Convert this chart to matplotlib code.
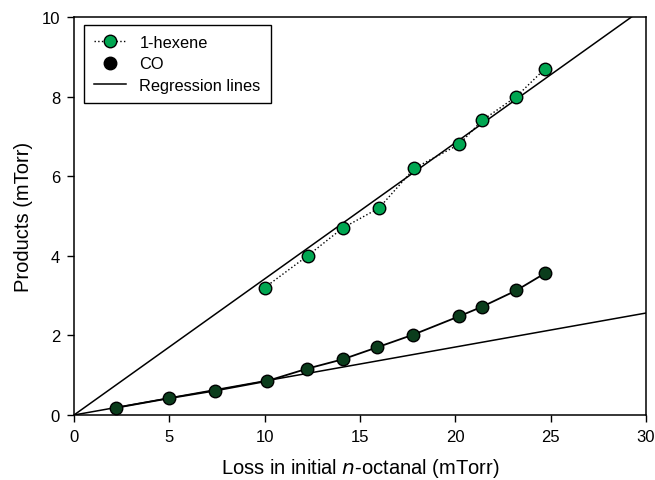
import numpy as np
import matplotlib
matplotlib.use("Agg")
import matplotlib.pyplot as plt
from matplotlib.lines import Line2D

plt.rcParams["font.family"] = ["Liberation Sans", "DejaVu Sans"]

# data (mTorr)
hex_x = [10.0, 12.25, 14.1, 16.0, 17.85, 20.2, 21.4, 23.2, 24.7]
hex_y = [3.2, 4.0, 4.7, 5.2, 6.2, 6.8, 7.4, 8.0, 8.7]
co_x = [2.2, 5.0, 7.4, 10.1, 12.2, 14.1, 15.9, 17.8, 20.2, 21.4, 23.2, 24.7]
co_y = [0.18, 0.42, 0.61, 0.85, 1.16, 1.40, 1.70, 2.02, 2.48, 2.72, 3.13, 3.56]
# regression slopes through origin
hex_slope = 0.342
co_slope = 0.0854

GREEN = "#00a651"
DARK = "#0b3d1c"

fig = plt.figure(figsize=(6.55, 4.81), dpi=100)
ax = fig.add_axes([74 / 655, 1 - 416 / 481, 572 / 655, 398 / 481])

xr = np.array([0, 30])
ax.plot(xr, hex_slope * xr, color="black", lw=1.1, zorder=2)
ax.plot(xr, co_slope * xr, color="black", lw=1.1, zorder=2)

ax.plot(hex_x, hex_y, ls=":", color="black", lw=1.0, marker="o", ms=9,
        mfc=GREEN, mec="black", mew=1.0, zorder=3)
ax.plot(co_x, co_y, ls="-", color="black", lw=1.3, marker="o", ms=9,
        mfc=DARK, mec="black", mew=1.0, zorder=3)

ax.set_xlim(0, 30)
ax.set_ylim(0, 10)
ax.set_xticks(range(0, 31, 5))
ax.set_yticks(range(0, 11, 2))
ax.tick_params(direction="out", length=5, width=1, labelsize=12, pad=5)
ax.tick_params(top=False, right=False)
for s in ax.spines.values():
    s.set_linewidth(1.1)

ax.set_xlabel("Loss in initial $\\it{n}$-octanal (mTorr)", fontsize=14.5, labelpad=9)
ax.set_ylabel("Products (mTorr)", fontsize=14.5, labelpad=6)

handles = [
    Line2D([], [], ls=":", color="black", lw=1.0, marker="o", ms=9,
           mfc=GREEN, mec="black"),
    Line2D([], [], ls="none", marker="o", ms=9, mfc="black", mec="black"),
    Line2D([], [], color="black", lw=1.1),
]
leg = ax.legend(handles, ["1-hexene", "CO", "Regression lines"], loc="upper left",
                bbox_to_anchor=(0.017, 0.98), borderaxespad=0, fontsize=11.8,
                fancybox=False, framealpha=1, edgecolor="black", handlelength=2.0,
                handletextpad=0.8, borderpad=0.6, labelspacing=0.4)
leg.get_frame().set_linewidth(1.0)

fig.savefig("out.png", dpi=100)
